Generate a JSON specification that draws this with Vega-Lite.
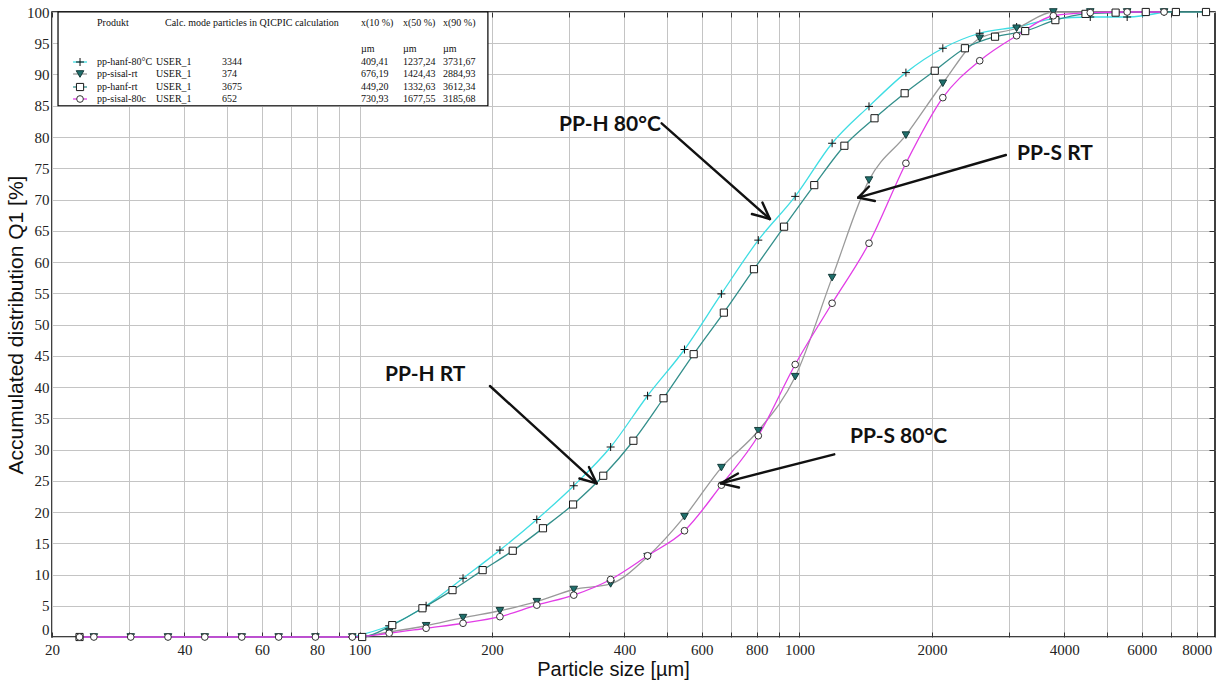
{
  "$schema": "https://vega.github.io/schema/vega-lite/v6.json",
  "width": 1163,
  "height": 625,
  "autosize": {"type": "none"},
  "padding": {"left": 52, "top": 12, "right": 10, "bottom": 46},
  "background": "white",
  "config": {
    "view": {"stroke": "black", "strokeWidth": 1.5},
    "axis": {"gridColor": "#c4c4c4", "gridWidth": 1, "gridOpacity": 1}
  },
  "datasets": {
    "series": [
      {"s": "pp-hanf-80°C", "x": 96.3, "y": 0},
      {"s": "pp-hanf-80°C", "x": 116.8, "y": 1.8},
      {"s": "pp-hanf-80°C", "x": 141.7, "y": 5.0},
      {"s": "pp-hanf-80°C", "x": 171.9, "y": 9.4},
      {"s": "pp-hanf-80°C", "x": 208.5, "y": 13.9},
      {"s": "pp-hanf-80°C", "x": 252.9, "y": 18.8},
      {"s": "pp-hanf-80°C", "x": 306.9, "y": 24.2},
      {"s": "pp-hanf-80°C", "x": 372.2, "y": 30.4},
      {"s": "pp-hanf-80°C", "x": 451.6, "y": 38.6},
      {"s": "pp-hanf-80°C", "x": 547.8, "y": 46.0},
      {"s": "pp-hanf-80°C", "x": 664.5, "y": 54.9},
      {"s": "pp-hanf-80°C", "x": 806.1, "y": 63.5},
      {"s": "pp-hanf-80°C", "x": 977.9, "y": 70.5},
      {"s": "pp-hanf-80°C", "x": 1186.3, "y": 79.0},
      {"s": "pp-hanf-80°C", "x": 1438.9, "y": 84.9},
      {"s": "pp-hanf-80°C", "x": 1745.6, "y": 90.3},
      {"s": "pp-hanf-80°C", "x": 2117.5, "y": 94.2},
      {"s": "pp-hanf-80°C", "x": 2568.5, "y": 96.6},
      {"s": "pp-hanf-80°C", "x": 3115.9, "y": 97.6},
      {"s": "pp-hanf-80°C", "x": 3775.9, "y": 98.9},
      {"s": "pp-hanf-80°C", "x": 4581, "y": 99.2},
      {"s": "pp-hanf-80°C", "x": 5557, "y": 99.2},
      {"s": "pp-hanf-80°C", "x": 6741, "y": 100},

      {"s": "pp-sisal-rt", "x": 24.9, "y": 0},
      {"s": "pp-sisal-rt", "x": 30.2, "y": 0},
      {"s": "pp-sisal-rt", "x": 36.7, "y": 0},
      {"s": "pp-sisal-rt", "x": 44.5, "y": 0},
      {"s": "pp-sisal-rt", "x": 54.0, "y": 0},
      {"s": "pp-sisal-rt", "x": 65.5, "y": 0},
      {"s": "pp-sisal-rt", "x": 79.4, "y": 0},
      {"s": "pp-sisal-rt", "x": 96.3, "y": 0},
      {"s": "pp-sisal-rt", "x": 116.8, "y": 0.8},
      {"s": "pp-sisal-rt", "x": 141.7, "y": 1.8},
      {"s": "pp-sisal-rt", "x": 171.9, "y": 3.1},
      {"s": "pp-sisal-rt", "x": 208.5, "y": 4.2},
      {"s": "pp-sisal-rt", "x": 252.9, "y": 5.65},
      {"s": "pp-sisal-rt", "x": 306.9, "y": 7.6},
      {"s": "pp-sisal-rt", "x": 372.2, "y": 8.5},
      {"s": "pp-sisal-rt", "x": 451.6, "y": 12.85},
      {"s": "pp-sisal-rt", "x": 547.8, "y": 19.25},
      {"s": "pp-sisal-rt", "x": 664.5, "y": 27.1},
      {"s": "pp-sisal-rt", "x": 806.1, "y": 33.0},
      {"s": "pp-sisal-rt", "x": 977.9, "y": 41.65},
      {"s": "pp-sisal-rt", "x": 1186.3, "y": 57.5},
      {"s": "pp-sisal-rt", "x": 1438.9, "y": 73.1},
      {"s": "pp-sisal-rt", "x": 1745.6, "y": 80.3},
      {"s": "pp-sisal-rt", "x": 2117.5, "y": 88.6},
      {"s": "pp-sisal-rt", "x": 2568.5, "y": 95.8},
      {"s": "pp-sisal-rt", "x": 3115.9, "y": 97.4},
      {"s": "pp-sisal-rt", "x": 3775.9, "y": 100},
      {"s": "pp-sisal-rt", "x": 4581, "y": 100},
      {"s": "pp-sisal-rt", "x": 5557, "y": 100},
      {"s": "pp-sisal-rt", "x": 6741, "y": 100},

      {"s": "pp-hanf-rt", "x": 23.1, "y": 0},
      {"s": "pp-hanf-rt", "x": 101.4, "y": 0},
      {"s": "pp-hanf-rt", "x": 118.7, "y": 1.9},
      {"s": "pp-hanf-rt", "x": 139.0, "y": 4.6},
      {"s": "pp-hanf-rt", "x": 162.7, "y": 7.5},
      {"s": "pp-hanf-rt", "x": 190.5, "y": 10.7},
      {"s": "pp-hanf-rt", "x": 223.0, "y": 13.8},
      {"s": "pp-hanf-rt", "x": 261.2, "y": 17.4},
      {"s": "pp-hanf-rt", "x": 305.8, "y": 21.2},
      {"s": "pp-hanf-rt", "x": 358.1, "y": 25.8},
      {"s": "pp-hanf-rt", "x": 419.3, "y": 31.4},
      {"s": "pp-hanf-rt", "x": 490.9, "y": 38.2},
      {"s": "pp-hanf-rt", "x": 574.8, "y": 45.25},
      {"s": "pp-hanf-rt", "x": 673.1, "y": 51.9},
      {"s": "pp-hanf-rt", "x": 788.1, "y": 58.85},
      {"s": "pp-hanf-rt", "x": 922.7, "y": 65.65},
      {"s": "pp-hanf-rt", "x": 1080.5, "y": 72.3},
      {"s": "pp-hanf-rt", "x": 1265, "y": 78.6},
      {"s": "pp-hanf-rt", "x": 1481, "y": 83.0},
      {"s": "pp-hanf-rt", "x": 1734, "y": 87.0},
      {"s": "pp-hanf-rt", "x": 2030, "y": 90.6},
      {"s": "pp-hanf-rt", "x": 2377, "y": 94.2},
      {"s": "pp-hanf-rt", "x": 2783, "y": 96.05},
      {"s": "pp-hanf-rt", "x": 3259, "y": 96.95},
      {"s": "pp-hanf-rt", "x": 3816, "y": 98.7},
      {"s": "pp-hanf-rt", "x": 4468, "y": 99.7},
      {"s": "pp-hanf-rt", "x": 5231, "y": 99.9},
      {"s": "pp-hanf-rt", "x": 6125, "y": 100},
      {"s": "pp-hanf-rt", "x": 7171, "y": 100},
      {"s": "pp-hanf-rt", "x": 8395, "y": 100},

      {"s": "pp-sisal-80c", "x": 23.1, "y": 0},
      {"s": "pp-sisal-80c", "x": 24.9, "y": 0},
      {"s": "pp-sisal-80c", "x": 30.2, "y": 0},
      {"s": "pp-sisal-80c", "x": 36.7, "y": 0},
      {"s": "pp-sisal-80c", "x": 44.5, "y": 0},
      {"s": "pp-sisal-80c", "x": 54.0, "y": 0},
      {"s": "pp-sisal-80c", "x": 65.5, "y": 0},
      {"s": "pp-sisal-80c", "x": 79.4, "y": 0},
      {"s": "pp-sisal-80c", "x": 96.3, "y": 0},
      {"s": "pp-sisal-80c", "x": 116.8, "y": 0.6},
      {"s": "pp-sisal-80c", "x": 141.7, "y": 1.4},
      {"s": "pp-sisal-80c", "x": 171.9, "y": 2.2},
      {"s": "pp-sisal-80c", "x": 208.5, "y": 3.25},
      {"s": "pp-sisal-80c", "x": 252.9, "y": 5.1},
      {"s": "pp-sisal-80c", "x": 306.9, "y": 6.7},
      {"s": "pp-sisal-80c", "x": 372.2, "y": 9.2},
      {"s": "pp-sisal-80c", "x": 451.6, "y": 13.0},
      {"s": "pp-sisal-80c", "x": 547.8, "y": 17.0},
      {"s": "pp-sisal-80c", "x": 664.5, "y": 24.3},
      {"s": "pp-sisal-80c", "x": 806.1, "y": 32.2},
      {"s": "pp-sisal-80c", "x": 977.9, "y": 43.6},
      {"s": "pp-sisal-80c", "x": 1186.3, "y": 53.4},
      {"s": "pp-sisal-80c", "x": 1438.9, "y": 63.0},
      {"s": "pp-sisal-80c", "x": 1745.6, "y": 75.8},
      {"s": "pp-sisal-80c", "x": 2117.5, "y": 86.3},
      {"s": "pp-sisal-80c", "x": 2568.5, "y": 92.2},
      {"s": "pp-sisal-80c", "x": 3115.9, "y": 96.2},
      {"s": "pp-sisal-80c", "x": 3775.9, "y": 99.4},
      {"s": "pp-sisal-80c", "x": 4581, "y": 99.9},
      {"s": "pp-sisal-80c", "x": 5557, "y": 100},
      {"s": "pp-sisal-80c", "x": 6741, "y": 100}
    ],
    "box": [{"x": 20.64, "x2": 195.8, "y": 85, "y2": 100}],
    "legmarks": [
      {"s": "pp-hanf-80°C", "x": 23.16, "y": 92.0},
      {"s": "pp-sisal-rt", "x": 23.16, "y": 90.08},
      {"s": "pp-hanf-rt", "x": 23.16, "y": 88.0},
      {"s": "pp-sisal-80c", "x": 23.16, "y": 86.08}
    ],
    "legsegs": [
      {"s": "pp-hanf-80°C", "x": 22.33, "x2": 24.02, "y": 92.0},
      {"s": "pp-sisal-rt", "x": 22.33, "x2": 24.02, "y": 90.08},
      {"s": "pp-hanf-rt", "x": 22.33, "x2": 24.02, "y": 88.0},
      {"s": "pp-sisal-80c", "x": 22.33, "x2": 24.02, "y": 86.08}
    ],
    "legtext": [
      {"x": 25.31, "y": 98.24, "t": "Produkt"},
      {"x": 36.13, "y": 98.24, "t": "Calc. mode"},
      {"x": 46.44, "y": 98.24, "t": "particles in QICPIC calculation"},
      {"x": 100.76, "y": 98.24, "t": "x(10 %)"},
      {"x": 125.5, "y": 98.24, "t": "x(50 %)"},
      {"x": 154.8, "y": 98.24, "t": "x(90 %)"},
      {"x": 100.76, "y": 94.08, "t": "µm"},
      {"x": 125.5, "y": 94.08, "t": "µm"},
      {"x": 154.8, "y": 94.08, "t": "µm"},
      {"x": 25.31, "y": 92.0, "t": "pp-hanf-80°C"},
      {"x": 34.47, "y": 92.0, "t": "USER_1"},
      {"x": 48.68, "y": 92.0, "t": "3344"},
      {"x": 100.76, "y": 92.0, "t": "409,41"},
      {"x": 125.5, "y": 92.0, "t": "1237,24"},
      {"x": 154.8, "y": 92.0, "t": "3731,67"},
      {"x": 25.31, "y": 90.08, "t": "pp-sisal-rt"},
      {"x": 34.47, "y": 90.08, "t": "USER_1"},
      {"x": 48.68, "y": 90.08, "t": "374"},
      {"x": 100.76, "y": 90.08, "t": "676,19"},
      {"x": 125.5, "y": 90.08, "t": "1424,43"},
      {"x": 154.8, "y": 90.08, "t": "2884,93"},
      {"x": 25.31, "y": 88.0, "t": "pp-hanf-rt"},
      {"x": 34.47, "y": 88.0, "t": "USER_1"},
      {"x": 48.68, "y": 88.0, "t": "3675"},
      {"x": 100.76, "y": 88.0, "t": "449,20"},
      {"x": 125.5, "y": 88.0, "t": "1332,63"},
      {"x": 154.8, "y": 88.0, "t": "3612,34"},
      {"x": 25.31, "y": 86.08, "t": "pp-sisal-80c"},
      {"x": 34.47, "y": 86.08, "t": "USER_1"},
      {"x": 48.68, "y": 86.08, "t": "652"},
      {"x": 100.76, "y": 86.08, "t": "730,93"},
      {"x": 125.5, "y": 86.08, "t": "1677,55"},
      {"x": 154.8, "y": 86.08, "t": "3185,68"}
    ],
    "arrows": [
      {"x": 486.1, "y": 82.19, "x2": 856.6, "y2": 66.88},
      {"x": 856.6, "y": 66.88, "x2": 823.7, "y2": 69.52},
      {"x": 856.6, "y": 66.88, "x2": 779.6, "y2": 67.68},
      {"x": 2946, "y": 77.12, "x2": 1360, "y2": 70.29},
      {"x": 1360, "y": 70.29, "x2": 1484, "y2": 69.76},
      {"x": 1360, "y": 70.29, "x2": 1439, "y2": 72.08},
      {"x": 197.9, "y": 40.16, "x2": 345.9, "y2": 24.59},
      {"x": 345.9, "y": 24.59, "x2": 332.2, "y2": 27.2},
      {"x": 345.9, "y": 24.59, "x2": 316.1, "y2": 25.36},
      {"x": 1199.5, "y": 29.23, "x2": 662.9, "y2": 24.59},
      {"x": 662.9, "y": 24.59, "x2": 728.7, "y2": 23.92},
      {"x": 662.9, "y": 24.59, "x2": 724.9, "y2": 26.16}
    ],
    "labels": [
      {"x": 284.0, "y": 81.92, "t": "PP-H 80°C"},
      {"x": 3121, "y": 77.28, "t": "PP-S RT"},
      {"x": 114.2, "y": 41.92, "t": "PP-H RT"},
      {"x": 1302, "y": 32.0, "t": "PP-S 80°C"}
    ],
    "anchor": [{"x": 100, "y": 50}]
  },
  "resolve": {"axis": {"x": "independent", "y": "independent"}},
  "layer": [
    {
      "encoding": {
        "x": {
          "field": "x",
          "type": "quantitative",
          "scale": {"type": "log", "domain": [20, 8800], "nice": false},
          "axis": {
            "title": "Particle size [µm]",
            "titleFont": "Liberation Sans",
            "titleFontSize": 20,
            "titleFontWeight": "normal",
            "titleColor": "#111",
            "titleX": 561,
            "titlePadding": 2,
            "values": [20, 30, 40, 50, 60, 70, 80, 90, 100, 200, 300, 400, 500, 600, 700, 800, 900, 1000, 2000, 3000, 4000, 5000, 6000, 7000, 8000],
            "labelExpr": "indexof([20,40,60,80,100,200,400,600,800,1000,2000,4000,6000,8000], datum.value) >= 0 ? '' + datum.value : ''",
            "labelFont": "Liberation Serif",
            "labelFontSize": 15,
            "labelColor": "#222",
            "labelPadding": 10,
            "labelFlush": false,
            "labelOverlap": false,
            "grid": true,
            "domain": false,
            "ticks": true,
            "tickSize": -5,
            "tickColor": "#333"
          }
        },
        "y": {
          "field": "y",
          "type": "quantitative",
          "scale": {"domain": [0, 100], "nice": false},
          "axis": {
            "title": "Accumulated distribution Q1 [%]",
            "titleFont": "Liberation Sans",
            "titleFontSize": 21,
            "titleFontWeight": "normal",
            "titleColor": "#111",
            "titlePadding": 0,
            "values": [0, 5, 10, 15, 20, 25, 30, 35, 40, 45, 50, 55, 60, 65, 70, 75, 80, 85, 90, 95, 100],
            "labelFont": "Liberation Serif",
            "labelFontSize": 15,
            "labelColor": "#222",
            "labelPadding": 3,
            "labelFlush": false,
            "labelBaseline": {"condition": {"test": "datum.value == 0", "value": "bottom"}, "value": "middle"},
            "grid": true,
            "domain": false,
            "ticks": false
          }
        }
      },
      "layer": [
        {
          "data": {"name": "series"},
          "mark": {"type": "line", "interpolate": "monotone", "strokeWidth": 1.3},
          "encoding": {
            "color": {
              "field": "s", "type": "nominal", "legend": null,
              "scale": {"domain": ["pp-hanf-80°C", "pp-sisal-rt", "pp-hanf-rt", "pp-sisal-80c"], "range": ["#3fdde3", "#9a9a9a", "#338f8b", "#e23de6"]}
            }
          }
        },
        {
          "data": {"name": "series"},
          "mark": {"type": "point", "filled": true, "strokeWidth": 1, "opacity": 1},
          "encoding": {
            "shape": {
              "field": "s", "type": "nominal", "legend": null,
              "scale": {"domain": ["pp-hanf-80°C", "pp-sisal-rt", "pp-hanf-rt", "pp-sisal-80c"], "range": ["M-1,0H1M0,-1V1", "triangle-down", "square", "circle"]}
            },
            "fill": {
              "field": "s", "type": "nominal", "legend": null,
              "scale": {"domain": ["pp-hanf-80°C", "pp-sisal-rt", "pp-hanf-rt", "pp-sisal-80c"], "range": ["transparent", "#1f6f6c", "white", "white"]}
            },
            "stroke": {
              "field": "s", "type": "nominal", "legend": null,
              "scale": {"domain": ["pp-hanf-80°C", "pp-sisal-rt", "pp-hanf-rt", "pp-sisal-80c"], "range": ["#111", "#163c3a", "#1a1a1a", "#333"]}
            },
            "size": {
              "field": "s", "type": "nominal", "legend": null,
              "scale": {"domain": ["pp-hanf-80°C", "pp-sisal-rt", "pp-hanf-rt", "pp-sisal-80c"], "range": [64, 45, 45, 40]}
            }
          }
        },
        {
          "data": {"name": "box"},
          "mark": {"type": "rect", "fill": "white", "stroke": "black", "strokeWidth": 1.2},
          "encoding": {"x2": {"field": "x2"}, "y2": {"field": "y2"}}
        },
        {
          "data": {"name": "legsegs"},
          "mark": {"type": "rule", "strokeWidth": 1.3},
          "encoding": {
            "x2": {"field": "x2"},
            "color": {"field": "s", "type": "nominal", "legend": null}
          }
        },
        {
          "data": {"name": "legmarks"},
          "mark": {"type": "point", "filled": true, "strokeWidth": 1, "opacity": 1},
          "encoding": {
            "shape": {"field": "s", "type": "nominal", "legend": null},
            "fill": {"field": "s", "type": "nominal", "legend": null},
            "stroke": {"field": "s", "type": "nominal", "legend": null},
            "size": {"field": "s", "type": "nominal", "legend": null}
          }
        },
        {
          "data": {"name": "legtext"},
          "mark": {"type": "text", "align": "left", "baseline": "middle", "font": "Liberation Serif", "fontSize": 10, "color": "#111"},
          "encoding": {"text": {"field": "t"}}
        },
        {
          "data": {"name": "arrows"},
          "mark": {"type": "rule", "color": "#111", "strokeWidth": 2.4, "strokeCap": "round"},
          "encoding": {"x2": {"field": "x2"}, "y2": {"field": "y2"}}
        },
        {
          "data": {"name": "labels"},
          "mark": {"type": "text", "align": "left", "baseline": "middle", "font": "Lato", "fontWeight": "bold", "fontSize": 21, "color": "#111"},
          "encoding": {"text": {"field": "t"}}
        }
      ]
    },
    {
      "data": {"name": "anchor"},
      "mark": {"type": "point", "opacity": 0},
      "encoding": {
        "x": {
          "field": "x", "type": "quantitative",
          "axis": {
            "orient": "top", "title": null, "labels": false, "grid": false, "domain": false,
            "values": [20, 30, 40, 50, 60, 70, 80, 90, 100, 200, 300, 400, 500, 600, 700, 800, 900, 1000, 2000, 3000, 4000, 5000, 6000, 7000, 8000],
            "ticks": true, "tickSize": -5, "tickColor": "#333"
          }
        },
        "y": {
          "field": "y", "type": "quantitative",
          "axis": {
            "orient": "right", "title": null, "labels": false, "grid": false, "domain": false,
            "values": [5, 10, 15, 20, 25, 30, 35, 40, 45, 50, 55, 60, 65, 70, 75, 80, 85, 90, 95],
            "ticks": true, "tickSize": -6, "tickColor": "#333"
          }
        }
      }
    }
  ]
}
